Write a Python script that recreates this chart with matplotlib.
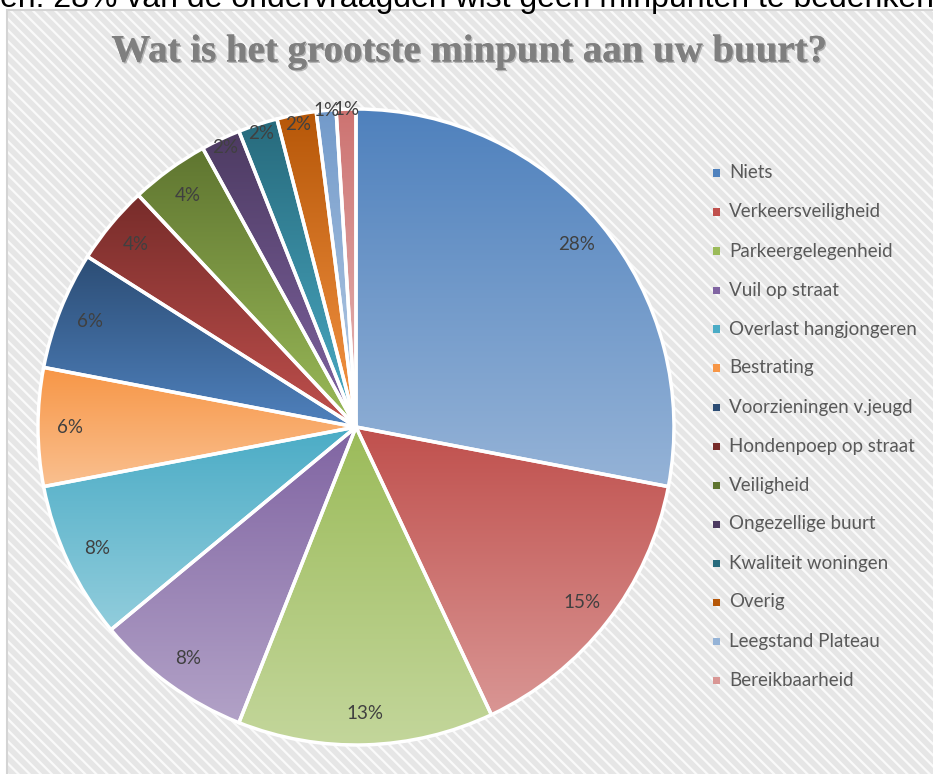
import numpy as np
import matplotlib
matplotlib.use('Agg')
import matplotlib.pyplot as plt
import matplotlib.patheffects as pe
from matplotlib.colors import to_rgba
from matplotlib.patches import Rectangle

# data
labels = ['Niets', 'Verkeersveiligheid', 'Parkeergelegenheid', 'Vuil op straat',
          'Overlast hangjongeren', 'Bestrating', 'Voorzieningen v.jeugd',
          'Hondenpoep op straat', 'Veiligheid', 'Ongezellige buurt',
          'Kwaliteit woningen', 'Overig', 'Leegstand Plateau', 'Bereikbaarheid']
values = [28, 15, 13, 8, 8, 6, 6, 4, 4, 2, 2, 2, 1, 1]

# gradient colours per slice (top, bottom)
top_colors = ['#4F81BD', '#C0504D', '#9BBB59', '#8064A2', '#4BACC6', '#F79646',
              '#2C4D75', '#772C2A', '#5F7530', '#4D3B62', '#276A7C', '#B65708',
              '#729ACA', '#CD7371']
bottom_colors = ['#95B3D7', '#D99694', '#C3D69B', '#B2A2C7', '#92CDDC', '#FAC090',
                 '#4F81BD', '#C0504D', '#9BBB59', '#8064A2', '#4BACC6', '#F79646',
                 '#B9CDE5', '#E6B9B8']
legend_colors = ['#4F81BD', '#C0504D', '#9BBB59', '#8064A2', '#4BACC6', '#F79646',
                 '#2C4D75', '#772C2A', '#5F7530', '#4D3B62', '#276A7C', '#B65708',
                 '#95B3D7', '#D99694']

title = 'Wat is het grootste minpunt aan uw buurt?'
above_text = 'en. 28% van de ondervraagden wist geen minpunten te bedenken.'

plt.rcParams['hatch.linewidth'] = 1.6

fig = plt.figure(figsize=(9.33, 7.74), dpi=100, facecolor='white')

# chart area with striped background
bg = Rectangle((7 / 933, 0), 1 - 7 / 933, 1 - 10 / 774, transform=fig.transFigure,
               facecolor='#E6E6E6', edgecolor='#FAFAFA', linewidth=0, hatch='\\\\\\',
               zorder=-2)
fig.add_artist(bg)
frame = Rectangle((7 / 933, -0.01), 1, 1 - 10 / 774 + 0.01, transform=fig.transFigure,
                  facecolor='none', edgecolor='#D4D4D4', linewidth=1.5, zorder=-1)
fig.add_artist(frame)

# text from the page above, cut off at the top
fig.text(0.0, 1 - 7 / 774, above_text, fontsize=23, family='Liberation Sans',
         color='black', va='baseline', ha='left')

fig.text(0.503, 1 - 52 / 774, title, fontsize=28, family='Liberation Serif',
         fontweight='bold', color='#7F7F7F', ha='center', va='center',
         path_effects=[pe.withSimplePatchShadow(offset=(1, -1), shadow_rgbFace='#444444', alpha=0.35),
                       pe.Normal()])

R = 318
cx, cy = 356, 774 - 427
ax = fig.add_axes([(cx - R) / 933, (cy - R) / 774, 2 * R / 933, 2 * R / 774])
ax.set_facecolor('none')

wedges, texts, autotexts = ax.pie(
    values, startangle=90, counterclock=False, autopct='%1.0f%%', pctdistance=0.9,
    wedgeprops=dict(edgecolor='white', linewidth=2.5, facecolor='none'),
    textprops=dict(fontsize=13.5, family='Lato', color='#404040'))

# vertical gradient inside every slice, dark on top, light at the bottom
for w, c_top, c_bot in zip(wedges, top_colors, bottom_colors):
    b = w.get_path().get_extents()
    t = np.linspace(0, 1, 256)[:, None]
    ct = np.array(to_rgba(c_top))
    cb = np.array(to_rgba(c_bot))
    grad = (cb * (1 - t) + ct * t)[:, None, :]
    im = ax.imshow(grad, extent=(b.x0, b.x1, b.y0, b.y1), origin='lower',
                   aspect='auto', zorder=0.5, interpolation='bilinear')
    im.set_clip_path(w)
    w.set_zorder(1)

# small slices get their labels near the rim
for at, v in zip(autotexts, values):
    at.set_zorder(3)
    if v <= 2:
        x, y = at.get_position()
        k = (0.97 if v == 2 else 1.0) / 0.9
        at.set_position((x * k, y * k))

ax.set_xlim(-1, 1)
ax.set_ylim(-1, 1)
ax.set_aspect('equal')
ax.axis('off')

# legend
y0 = 1 - 173 / 774
step = 39 / 774
for i, (lab, col) in enumerate(zip(labels, legend_colors)):
    yy = y0 - i * step
    fig.add_artist(Rectangle((713 / 933, yy - 3.5 / 774), 7 / 933, 7 / 774,
                             transform=fig.transFigure, facecolor=col, edgecolor='none'))
    fig.text(729 / 933, yy, lab, fontsize=13.5, family='Lato', color='#595959',
             va='center', ha='left')

fig.savefig('out.png', dpi=100, facecolor='white')
